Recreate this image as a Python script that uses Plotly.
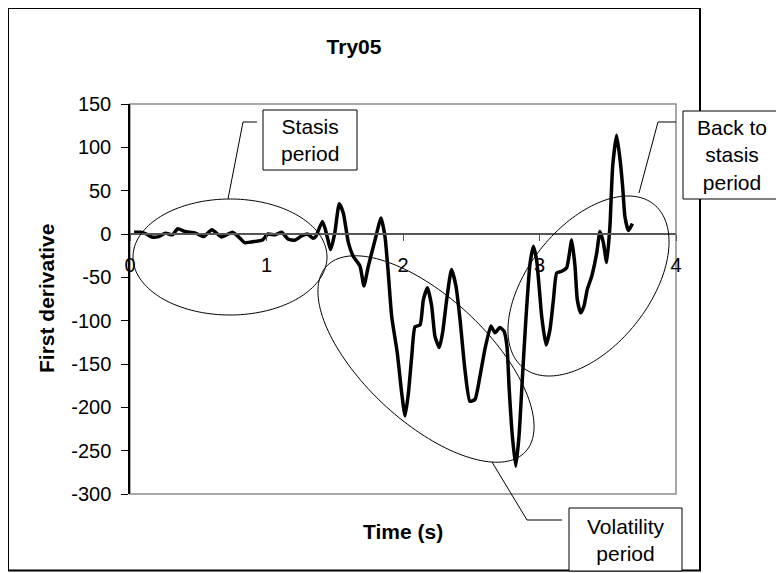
import numpy as np
import plotly.graph_objects as go

# ---------------- data ----------------
time_s = [0.03, 0.08, 0.12, 0.16, 0.21, 0.26, 0.31, 0.35, 0.40, 0.48, 0.54, 0.60, 0.67, 0.75,
          0.80, 0.84, 0.92, 0.97, 1.01, 1.06, 1.11, 1.16, 1.21, 1.26, 1.30, 1.34, 1.36, 1.41,
          1.435, 1.47, 1.50, 1.533, 1.563, 1.60, 1.636, 1.685, 1.714, 1.746, 1.795, 1.839,
          1.868, 1.892, 1.917, 1.958, 1.99, 2.015, 2.04, 2.064, 2.088, 2.125, 2.149, 2.179,
          2.21, 2.234, 2.266, 2.29, 2.32, 2.355, 2.388, 2.418, 2.454, 2.49, 2.527, 2.564,
          2.60, 2.644, 2.674, 2.71, 2.74, 2.762, 2.777, 2.801, 2.826, 2.85, 2.874, 2.90,
          2.93, 2.955, 2.979, 2.999, 3.016, 3.048, 3.077, 3.102, 3.126, 3.163, 3.199, 3.236,
          3.26, 3.277, 3.302, 3.326, 3.35, 3.382, 3.419, 3.443, 3.468, 3.492, 3.516, 3.536,
          3.565, 3.59, 3.609, 3.626, 3.651, 3.681]
first_derivative = [2, 2, 0, -3.5, -3, 1, -1, 6, 3, 1, -3, 5, -3.5, 2,
                    -4, -10, -8.5, -7, 0, -1, 2, -6, -7, -2, 0, -5, -3, 14.5,
                    3, -18, 1, 35, 24, -10, -26, -37, -60, -37, -7, 18.5,
                    -3, -45, -95, -137, -183, -210, -183, -141, -107, -105, -76, -62,
                    -83, -118, -131, -114, -76, -41, -60, -99, -157, -193, -191, -164,
                    -133, -106, -114, -108, -112, -130, -176, -233, -268, -233, -168, -99,
                    -35, -14, -30, -64, -95, -128, -110, -76, -45, -43, -39, -7,
                    -37, -76, -91, -83, -64, -49, -22, 3, -10, -33, 9, 78,
                    114, 86, 55, 20, 4, 12]

x_tick_values = [0, 1, 2, 3, 4]
x_tick_labels = ["0", "1", "2", "3", "4"]
y_tick_values = [-300, -250, -200, -150, -100, -50, 0, 50, 100, 150]
y_tick_labels = ["-300", "-250", "-200", "-150", "-100", "-50", "0", "50", "100", "150"]

chart_title = "Try05"
x_title = "Time (s)"
y_title = "First derivative"
callout_texts = ["Stasis<br>period", "Back to<br>stasis<br>period", "Volatility<br>period"]

# ---------------- layout geometry ----------------
# page pixels (the html body adds an 8px margin around the figure)
OFF = 8
W, H = 784 - OFF, 573 - OFF
PLOT_L, PLOT_R, PLOT_T, PLOT_B = 130, 676, 104, 494   # plot area in page pixels
L, T = PLOT_L - OFF, PLOT_T - OFF
R, B = W - (PLOT_R - OFF), H - (PLOT_B - OFF)
PW, PH = PLOT_R - PLOT_L, PLOT_B - PLOT_T
FONT = "Arial, Liberation Sans, sans-serif"

ymin, ymax = min(y_tick_values), max(y_tick_values)
xmin, xmax = min(x_tick_values), max(x_tick_values)


def px(x):
    return (x - PLOT_L) / PW


def py(y):
    return (PLOT_B - y) / PH


def ellipse_path(cx, cy, a, b, theta_deg, n=160):
    t = np.linspace(0, 2 * np.pi, n)
    th = np.radians(theta_deg)
    xs = cx + a * np.cos(t) * np.cos(th) - b * np.sin(t) * np.sin(th)
    ys = cy + a * np.cos(t) * np.sin(th) + b * np.sin(t) * np.cos(th)
    return "M " + " L ".join(f"{px(x):.5f},{py(y):.5f}" for x, y in zip(xs, ys)) + " Z"


def poly_path(points):
    return "M " + " L ".join(f"{px(x):.5f},{py(y):.5f}" for x, y in points)


fig = go.Figure()
fig.add_trace(go.Scatter(
    x=time_s, y=first_derivative, mode="lines",
    line=dict(color="black", width=3.5, shape="spline", smoothing=0.5),
    showlegend=False, hoverinfo="skip",
))

shapes = []
# outer chart border
shapes.append(dict(type="rect", xref="paper", yref="paper",
                   x0=px(8), x1=px(700), y0=py(8), y1=py(570.5),
                   line=dict(color="black", width=2), layer="below"))
# plot-area border
shapes.append(dict(type="rect", xref="paper", yref="paper", x0=0, x1=1, y0=0, y1=1,
                   line=dict(color="#8c8c8c", width=1.5), layer="below"))
# ellipses
line_thin = dict(color="black", width=1)
shapes.append(dict(type="path", xref="paper", yref="paper",
                   path=ellipse_path(230, 257, 97, 58, 0), line=line_thin))
shapes.append(dict(type="path", xref="paper", yref="paper",
                   path=ellipse_path(426, 359, 136, 62, 43), line=line_thin))
shapes.append(dict(type="path", xref="paper", yref="paper",
                   path=ellipse_path(588.5, 286, 104.6, 60.4, -51.4), line=line_thin))
# callout leader lines
shapes.append(dict(type="path", xref="paper", yref="paper",
                   path=poly_path([(228, 199), (243, 122), (257, 122)]), line=line_thin))
shapes.append(dict(type="path", xref="paper", yref="paper",
                   path=poly_path([(639, 193), (658, 122), (676, 122)]), line=line_thin))
shapes.append(dict(type="path", xref="paper", yref="paper",
                   path=poly_path([(492, 462), (527, 520), (562, 520)]), line=line_thin))
# callout boxes (white fill, on top of the border)
for (x0, y0, x1, y1) in [(263, 110, 357, 170), (683, 111, 781, 199), (569, 508, 682, 571)]:
    shapes.append(dict(type="rect", xref="paper", yref="paper",
                       x0=px(x0), x1=px(x1), y0=py(y1), y1=py(y0),
                       line=dict(color="black", width=1), fillcolor="white"))

annotations = []
for txt, (cx, cy) in zip(callout_texts, [(310, 140), (732, 155), (626, 540)]):
    annotations.append(dict(text=txt, xref="paper", yref="paper", x=px(cx), y=py(cy),
                            xanchor="center", yanchor="middle", showarrow=False,
                            font=dict(family=FONT, size=21, color="black")))
annotations.append(dict(text=f"<b>{x_title}</b>", xref="paper", yref="paper",
                        x=px(403), y=py(531), xanchor="center", yanchor="middle",
                        showarrow=False, font=dict(family=FONT, size=21, color="black")))
annotations.append(dict(text=f"<b>{y_title}</b>", xref="paper", yref="paper",
                        x=px(46), y=py(299), xanchor="center", yanchor="middle",
                        textangle=-90, showarrow=False,
                        font=dict(family=FONT, size=21, color="black")))

fig.update_layout(
    width=W, height=H,
    margin=dict(l=L, r=R, t=T, b=B),
    paper_bgcolor="white", plot_bgcolor="white",
    font=dict(family=FONT, color="black"),
    title=dict(text=f"<b>{chart_title}</b>", xref="container", yref="container",
               x=(354 - OFF) / W, y=1 - (47 - OFF) / H, xanchor="center", yanchor="middle",
               font=dict(family=FONT, size=21, color="black")),
    shapes=shapes,
    annotations=annotations,
    xaxis=dict(range=[xmin, xmax], tickvals=x_tick_values, ticktext=x_tick_labels,
               showgrid=False, zeroline=False,
               anchor="free", position=(0 - ymin) / (ymax - ymin),
               showline=True, linecolor="#555555", linewidth=1.5,
               ticks="outside", ticklen=6, tickcolor="#555555", tickwidth=1,
               tickfont=dict(family=FONT, size=20, color="black"),
               ticklabelstandoff=7),
    yaxis=dict(range=[ymin, ymax], tickvals=y_tick_values, ticktext=y_tick_labels,
               showgrid=False, zeroline=False,
               showline=True, linecolor="black", linewidth=1.5,
               ticks="outside", ticklen=7, tickcolor="black", tickwidth=1,
               tickfont=dict(family=FONT, size=20, color="black"),
               ticklabelstandoff=6),
)

fig.write_html("out.html")
